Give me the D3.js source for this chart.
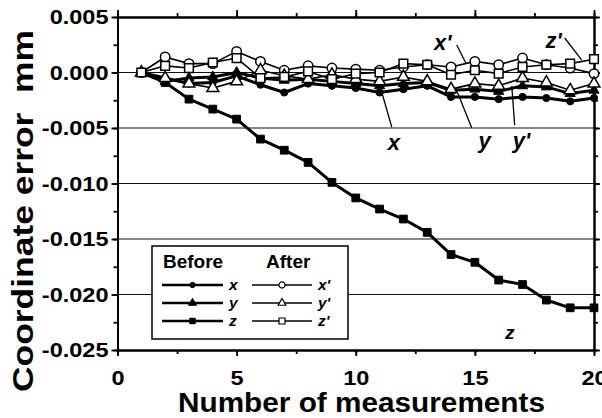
<!DOCTYPE html>
<html><head><meta charset="utf-8">
<script src="https://cdn.jsdelivr.net/npm/d3@7"></script>
<style>
body{margin:0;background:#fff}
svg text{font-family:"Liberation Sans",Arial,Helvetica,sans-serif;fill:#000}
</style>
</head><body>
<svg id="chart" width="602" height="418"></svg>
<script>
// ---- data ----
const measurements = d3.range(1, 21);
const xBefore = [0, -0.0005, -0.0010, -0.0009, -0.0003, -0.0011, -0.0018, -0.0010, -0.0012, -0.0014, -0.0018, -0.0015, -0.0012, -0.0022, -0.0022, -0.0024, -0.0022, -0.0023, -0.0026, -0.0023];
const yBefore = [0, -0.0008, -0.0005, -0.0004, 0.0000, -0.0005, -0.0007, -0.0006, -0.0008, -0.0010, -0.0012, -0.0010, -0.0009, -0.0016, -0.0015, -0.0017, -0.0012, -0.0013, -0.0019, -0.0016];
const zBefore = [0, -0.0009, -0.0024, -0.0033, -0.0042, -0.0060, -0.0070, -0.0081, -0.0099, -0.0113, -0.0123, -0.0132, -0.0144, -0.0164, -0.0171, -0.0187, -0.0191, -0.0205, -0.0212, -0.0212];
const xAfter = [0, 0.0014, 0.0008, 0.0008, 0.0019, 0.0010, 0.0002, 0.0006, 0.0004, 0.0003, 0.0002, 0.0005, 0.0007, 0.0005, 0.0010, 0.0007, 0.0013, 0.0007, 0.0004, -0.0001];
const yAfter = [0, -0.0005, -0.0010, -0.0014, -0.0008, 0.0002, -0.0003, -0.0006, -0.0002, -0.0006, -0.0008, -0.0004, -0.0008, -0.0015, -0.0010, -0.0012, -0.0005, -0.0009, -0.0016, -0.0010];
const zAfter = [0, 0.0006, 0.0004, 0.0009, 0.0013, -0.0005, -0.0004, 0.0001, -0.0006, -0.0001, 0.0000, 0.0008, 0.0007, -0.0002, 0.0002, -0.0001, 0.0005, 0.0007, 0.0008, 0.0012];
const xTicks = [0, 5, 10, 15, 20];
const yTicks = [0.005, 0, -0.005, -0.010, -0.015, -0.020, -0.025];
const gridValues = [0, -0.005, -0.010, -0.015, -0.020];

const series = [
  {name: "x", values: xBefore, marker: "circle", filled: true},
  {name: "y", values: yBefore, marker: "triangle", filled: true},
  {name: "z", values: zBefore, marker: "square", filled: true},
  {name: "x'", values: xAfter, marker: "circle", filled: false},
  {name: "y'", values: yAfter, marker: "triangle", filled: false},
  {name: "z'", values: zAfter, marker: "square", filled: false}
];

// ---- layout ----
const svg = d3.select("#chart");
const L = 117.5, R = 594, T = 17, B = 350;
const x = d3.scaleLinear().domain([0, 20]).range([L, R]);
const y = d3.scaleLinear().domain([-0.025, 0.005]).range([B, T]);
const fmtY = d => d3.format(".3f")(d).replace("\u2212", "-");

// gridlines
svg.append("g").selectAll("line").data(gridValues).join("line")
  .attr("x1", L).attr("x2", R).attr("y1", d => y(d)).attr("y2", d => y(d))
  .attr("stroke", "#111").attr("stroke-width", 1.2);

// axes
const minorX = d3.range(0, 20.01, 2.5);
const minorY = d3.range(-0.025, 0.0051, 0.0025);
function styleAxis(g) {
  g.select(".domain").attr("stroke", "#000").attr("stroke-width", 2);
  g.selectAll(".tick line").attr("stroke", "#000").attr("stroke-width", 1.8);
  g.selectAll("text").attr("font-weight", "bold").attr("font-size", 21)
    .style("font-family", "'Liberation Sans',Arial,sans-serif")
    .each(function() {
      const w = this.getComputedTextLength();
      if (w > 0) d3.select(this).attr("textLength", w * 1.12).attr("lengthAdjust", "spacingAndGlyphs");
    });
}
// bottom
svg.append("g").attr("transform", `translate(0,${B})`)
  .call(d3.axisBottom(x).tickValues(minorX).tickSize(4).tickFormat("").tickSizeOuter(0)).call(styleAxis);
svg.append("g").attr("transform", `translate(0,${B})`)
  .call(d3.axisBottom(x).tickValues(xTicks).tickSize(6).tickPadding(14).tickFormat(d3.format("d")).tickSizeOuter(0)).call(styleAxis);
// top
svg.append("g").attr("transform", `translate(0,${T})`)
  .call(d3.axisTop(x).tickValues(minorX).tickSize(4).tickFormat("").tickSizeOuter(0)).call(styleAxis);
svg.append("g").attr("transform", `translate(0,${T})`)
  .call(d3.axisTop(x).tickValues(xTicks).tickSize(7).tickFormat("").tickSizeOuter(0)).call(styleAxis);
// left
svg.append("g").attr("transform", `translate(${L},0)`)
  .call(d3.axisLeft(y).tickValues(minorY).tickSize(4).tickFormat("").tickSizeOuter(0)).call(styleAxis);
svg.append("g").attr("transform", `translate(${L},0)`)
  .call(d3.axisLeft(y).tickValues(yTicks).tickSize(6).tickPadding(3).tickFormat(fmtY).tickSizeOuter(0)).call(styleAxis);
// right
svg.append("g").attr("transform", `translate(${R},0)`)
  .call(d3.axisRight(y).tickValues(minorY).tickSize(4).tickFormat("").tickSizeOuter(0)).call(styleAxis);
svg.append("g").attr("transform", `translate(${R},0)`)
  .call(d3.axisRight(y).tickValues(yTicks).tickSize(6).tickFormat("").tickSizeOuter(0)).call(styleAxis);

// axis titles
svg.append("text").attr("x", (178 + 545) / 2).attr("y", 412).attr("text-anchor", "middle")
  .attr("font-weight", "bold").attr("font-size", 28)
  .attr("textLength", 367).attr("lengthAdjust", "spacingAndGlyphs")
  .text("Number of measurements");
svg.append("text").attr("transform", "translate(33,211) rotate(-90)").attr("text-anchor", "middle")
  .attr("font-weight", "bold").attr("font-size", 30)
  .attr("textLength", 362).attr("lengthAdjust", "spacingAndGlyphs")
  .text("Coordinate error\u00a0\u00a0mm");

// markers
const symType = {circle: d3.symbolCircle, triangle: d3.symbolTriangle, square: d3.symbolSquare};
function markerSize(s, small) {
  if (small) {
    if (s.filled) return s.marker === "circle" ? 22 : s.marker === "triangle" ? 28 : 30;
    return s.marker === "circle" ? 30 : s.marker === "triangle" ? 26 : 36;
  }
  if (s.filled) return s.marker === "circle" ? 40 : s.marker === "triangle" ? 45 : 60;
  return s.marker === "circle" ? 70 : s.marker === "triangle" ? 60 : 75;
}
function drawMarker(g, s, px, py, small) {
  g.append("path")
    .attr("d", d3.symbol().type(symType[s.marker]).size(markerSize(s, small))())
    .attr("transform", `translate(${px},${py})`)
    .attr("fill", s.filled ? "#000" : "#fff")
    .attr("stroke", "#000").attr("stroke-width", s.filled ? 1 : (small ? 1.2 : 1.5));
}

const line = d3.line().x((d, i) => x(measurements[i])).y(d => y(d));
const plot = svg.append("g");
series.forEach(s => {
  plot.append("path").datum(s.values).attr("d", line)
    .attr("fill", "none").attr("stroke", "#000")
    .attr("stroke-width", s.filled ? 3 : 1.6).attr("stroke-linejoin", "round");
});
series.forEach(s => {
  const g = plot.append("g");
  s.values.forEach((v, i) => drawMarker(g, s, x(measurements[i]), y(v), false));
});

// annotations (data coordinates)
const annotations = [
  {label: "x'", tx: 13.65, ty: 0.00203, l: [[14.24, 0.00248], [14.62, 0.00086]], size: 22},
  {label: "z'", tx: 18.31, ty: 0.00221, l: [[18.77, 0.00311], [19.48, 0.00113]], size: 22},
  {label: "x", tx: 11.6, ty: -0.00698, l: [[11.51, -0.00491], [11.09, -0.00176]], size: 22},
  {label: "y", tx: 15.41, ty: -0.0068, l: [[14.87, -0.0050], [14.28, -0.00185]], size: 22},
  {label: "y'", tx: 16.96, ty: -0.0068, l: [[16.67, -0.00473], [16.55, -0.00122]], size: 22},
  {label: "z", tx: 16.46, ty: -0.0240, l: null, size: 19}
];
annotations.forEach(a => {
  if (a.l) svg.append("line")
    .attr("x1", x(a.l[0][0])).attr("y1", y(a.l[0][1]))
    .attr("x2", x(a.l[1][0])).attr("y2", y(a.l[1][1]))
    .attr("stroke", "#000").attr("stroke-width", 1.3);
  svg.append("text").attr("x", x(a.tx)).attr("y", y(a.ty)).attr("text-anchor", "middle")
    .attr("font-weight", "bold").attr("font-style", "italic").attr("font-size", a.size)
    .text(a.label);
});

// legend
const lg = svg.append("g");
lg.append("rect").attr("x", 152).attr("y", 246).attr("width", 196).attr("height", 93)
  .attr("fill", "#fff").attr("stroke", "#000").attr("stroke-width", 1.5);
lg.append("text").attr("x", 163).attr("y", 268).attr("font-weight", "bold").attr("font-size", 19).text("Before");
lg.append("text").attr("x", 266).attr("y", 268).attr("font-weight", "bold").attr("font-size", 19).text("After");
const rowsY = [285, 303, 321];
series.forEach((s, i) => {
  const col = s.filled ? 0 : 1;
  const row = i % 3;
  const x0 = col ? 252 : 162, x1 = col ? 312 : 223;
  const yy = rowsY[row];
  lg.append("line").attr("x1", x0).attr("x2", x1).attr("y1", yy).attr("y2", yy)
    .attr("stroke", "#000").attr("stroke-width", s.filled ? 2.5 : 1.3);
  drawMarker(lg, s, (x0 + x1) / 2, yy, true);
  lg.append("text").attr("x", x1 + 6).attr("y", yy + 5)
    .attr("font-weight", "bold").attr("font-style", "italic").attr("font-size", 15.5).text(s.name);
});
</script>
</body></html>
